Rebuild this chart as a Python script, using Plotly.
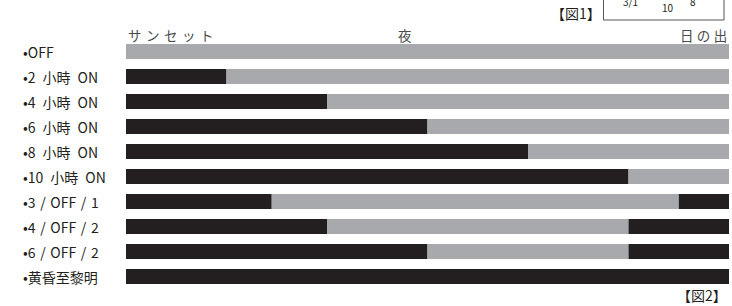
import plotly.graph_objects as go

# ---- data ----
EN = "\u2002"
TS = "\u2004"
categories = ["•OFF", f"•2{EN}小時{EN}ON", f"•4{EN}小時{EN}ON", f"•6{EN}小時{EN}ON",
              f"•8{EN}小時{EN}ON", f"•10{EN}小時{EN}ON", f"•3{TS}/{TS}OFF{TS}/{TS}1",
              f"•4{TS}/{TS}OFF{TS}/{TS}2", f"•6{TS}/{TS}OFF{TS}/{TS}2", "•黄昏至黎明"]
on_first = [0, 2, 4, 6, 8, 10, 2.9, 4, 6, 12]      # hours lit after sunset
off_mid = [12, 10, 8, 6, 4, 2, 8.1, 6, 4, 0]       # hours off
on_last = [0, 0, 0, 0, 0, 0, 1, 2, 2, 0]           # hours lit before sunrise
header_labels = [TS.join("サンセット"), "夜", "\u2005".join("日の出")]
header_pos = [0, 5.55, 12]
fig_labels = ["【図1】", "【図2】"]

DARK = "#231f20"
GRAY = "#a7a9ac"
FONT = "Noto Sans CJK JP"

W, H = 732, 306
ML, MR, MT, MB = 126, 3, 39, 17
PW, PH = W - ML - MR, H - MT - MB


def px(xp):
    return (xp - ML) / PW


def py(yp):
    return (H - MB - yp) / PH


fig = go.Figure()
base2 = [a + b for a, b in zip(on_first, off_mid)]
fig.add_trace(go.Bar(y=categories, x=on_first, base=[0] * len(categories), orientation="h",
                     marker=dict(color=DARK, line=dict(width=0)), width=0.6))
fig.add_trace(go.Bar(y=categories, x=off_mid, base=on_first, orientation="h",
                     marker=dict(color=GRAY, line=dict(width=0)), width=0.6))
fig.add_trace(go.Bar(y=categories, x=on_last, base=base2, orientation="h",
                     marker=dict(color=DARK, line=dict(width=0)), width=0.6))

annotations = []
for c in categories:
    annotations.append(dict(x=px(21), xref="paper", y=c, yref="y", text=c, showarrow=False,
                            xanchor="left", yanchor="middle",
                            font=dict(family=FONT, size=14, color=DARK)))
anchors = ["left", "center", "right"]
for t, p, a in zip(header_labels, header_pos, anchors):
    annotations.append(dict(x=p, xref="x", y=py(35), yref="paper", text=t, showarrow=False,
                            xanchor=a, yanchor="middle",
                            font=dict(family=FONT, size=13.5, color="#4a4a4a")))
annotations.append(dict(x=px(603), xref="paper", y=py(13), yref="paper", text=fig_labels[0],
                        showarrow=False, xanchor="right", yanchor="middle",
                        font=dict(family=FONT, size=14, color=DARK)))
annotations.append(dict(x=px(729), xref="paper", y=py(295), yref="paper", text=fig_labels[1],
                        showarrow=False, xanchor="right", yanchor="middle",
                        font=dict(family=FONT, size=14, color=DARK)))
# partially cut-off content of the top-right box
for t, xx, yy in [("3/1", 630, 1), ("10", 668, 7), ("8", 693, 1)]:
    annotations.append(dict(x=px(xx), xref="paper", y=py(yy), yref="paper", text=t,
                            showarrow=False, xanchor="center", yanchor="middle",
                            font=dict(family=FONT, size=10, color=DARK)))

fig.update_layout(
    width=W, height=H,
    margin=dict(l=ML, r=MR, t=MT, b=MB),
    paper_bgcolor="white", plot_bgcolor="white",
    barmode="overlay", showlegend=False,
    xaxis=dict(range=[0, 12], visible=False, fixedrange=True),
    yaxis=dict(type="category", categoryorder="array", categoryarray=categories,
               autorange="reversed", visible=False, fixedrange=True),
    annotations=annotations,
    shapes=[dict(type="rect", xref="paper", yref="paper", x0=px(603.5), x1=px(724),
                 y0=py(20), y1=py(-5), line=dict(color="#555555", width=1))],
)

fig.write_html("out.html", config={"displayModeBar": False},
               post_script="document.body.style.margin='0';document.body.style.overflow='hidden';")
